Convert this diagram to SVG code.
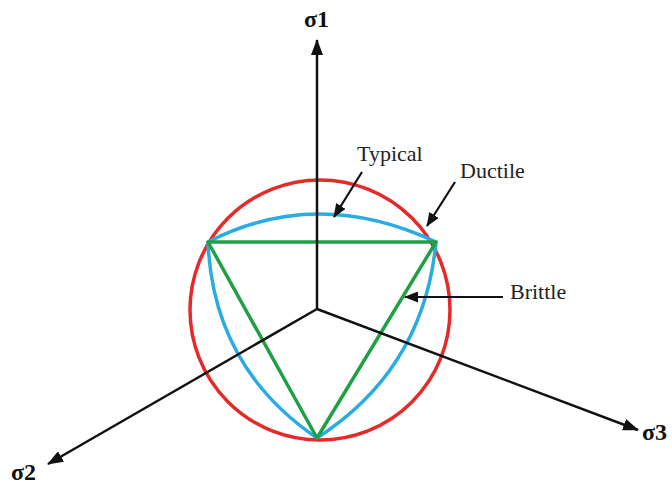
<svg xmlns="http://www.w3.org/2000/svg" width="672" height="484" viewBox="0 0 672 484">
<style>
.ax{stroke:#111;stroke-width:2.5;fill:none}
.ptr{stroke:#111;stroke-width:2.2;fill:none}
.curve{fill:none;stroke-width:3.5;stroke-linejoin:round}
.lbl{font-family:"Liberation Serif","Times New Roman",serif;font-size:22px;fill:#222}
.axl{font-family:"Liberation Serif","Times New Roman",serif;font-size:24px;font-weight:bold;fill:#111}
</style>
<defs>
<marker id="ah" markerUnits="userSpaceOnUse" markerWidth="16" markerHeight="12" refX="15" refY="6" orient="auto">
<path d="M0,0 L16,6 L0,12 z" fill="#111"/>
</marker>
<marker id="ph" markerUnits="userSpaceOnUse" markerWidth="14" markerHeight="11" refX="13" refY="5.5" orient="auto">
<path d="M0,0 L14,5.5 L0,11 z" fill="#111"/>
</marker>
</defs>
<rect width="672" height="484" fill="#fff"/>
<g id="criteria">
<circle id="ductile" cx="320" cy="310" r="130" class="curve" stroke="#e52a2a"/>
<path id="typical" class="curve" stroke="#2aace2" d="M208,242 Q317,186 436,242 Q424,369 317,438 Q213,367 208,242 Z"/>
<path id="brittle" class="curve" stroke="#20a045" d="M208,242 L436,242 L317,438 Z"/>
</g>
<g id="connectors">
<line class="ax" x1="317" y1="309" x2="317" y2="40" marker-end="url(#ah)"/>
<line class="ax" x1="317" y1="309" x2="48" y2="464" marker-end="url(#ah)"/>
<line class="ax" x1="317" y1="309" x2="638" y2="430" marker-end="url(#ah)"/>
<line class="ptr" x1="362" y1="172" x2="334" y2="217" marker-end="url(#ph)"/>
<line class="ptr" x1="455" y1="182" x2="427" y2="226" marker-end="url(#ph)"/>
<line class="ptr" x1="503" y1="297" x2="405" y2="297" marker-end="url(#ph)"/>
</g>
<g id="labels">
<text id="s1" class="axl" x="304" y="27">σ1</text>
<text id="s2" class="axl" x="11" y="480">σ2</text>
<text id="s3" class="axl" x="642" y="440">σ3</text>
<text id="t-typical" class="lbl" x="357" y="161">Typical</text>
<text id="t-ductile" class="lbl" x="460" y="178">Ductile</text>
<text id="t-brittle" class="lbl" x="510" y="299">Brittle</text>
</g>
</svg>
